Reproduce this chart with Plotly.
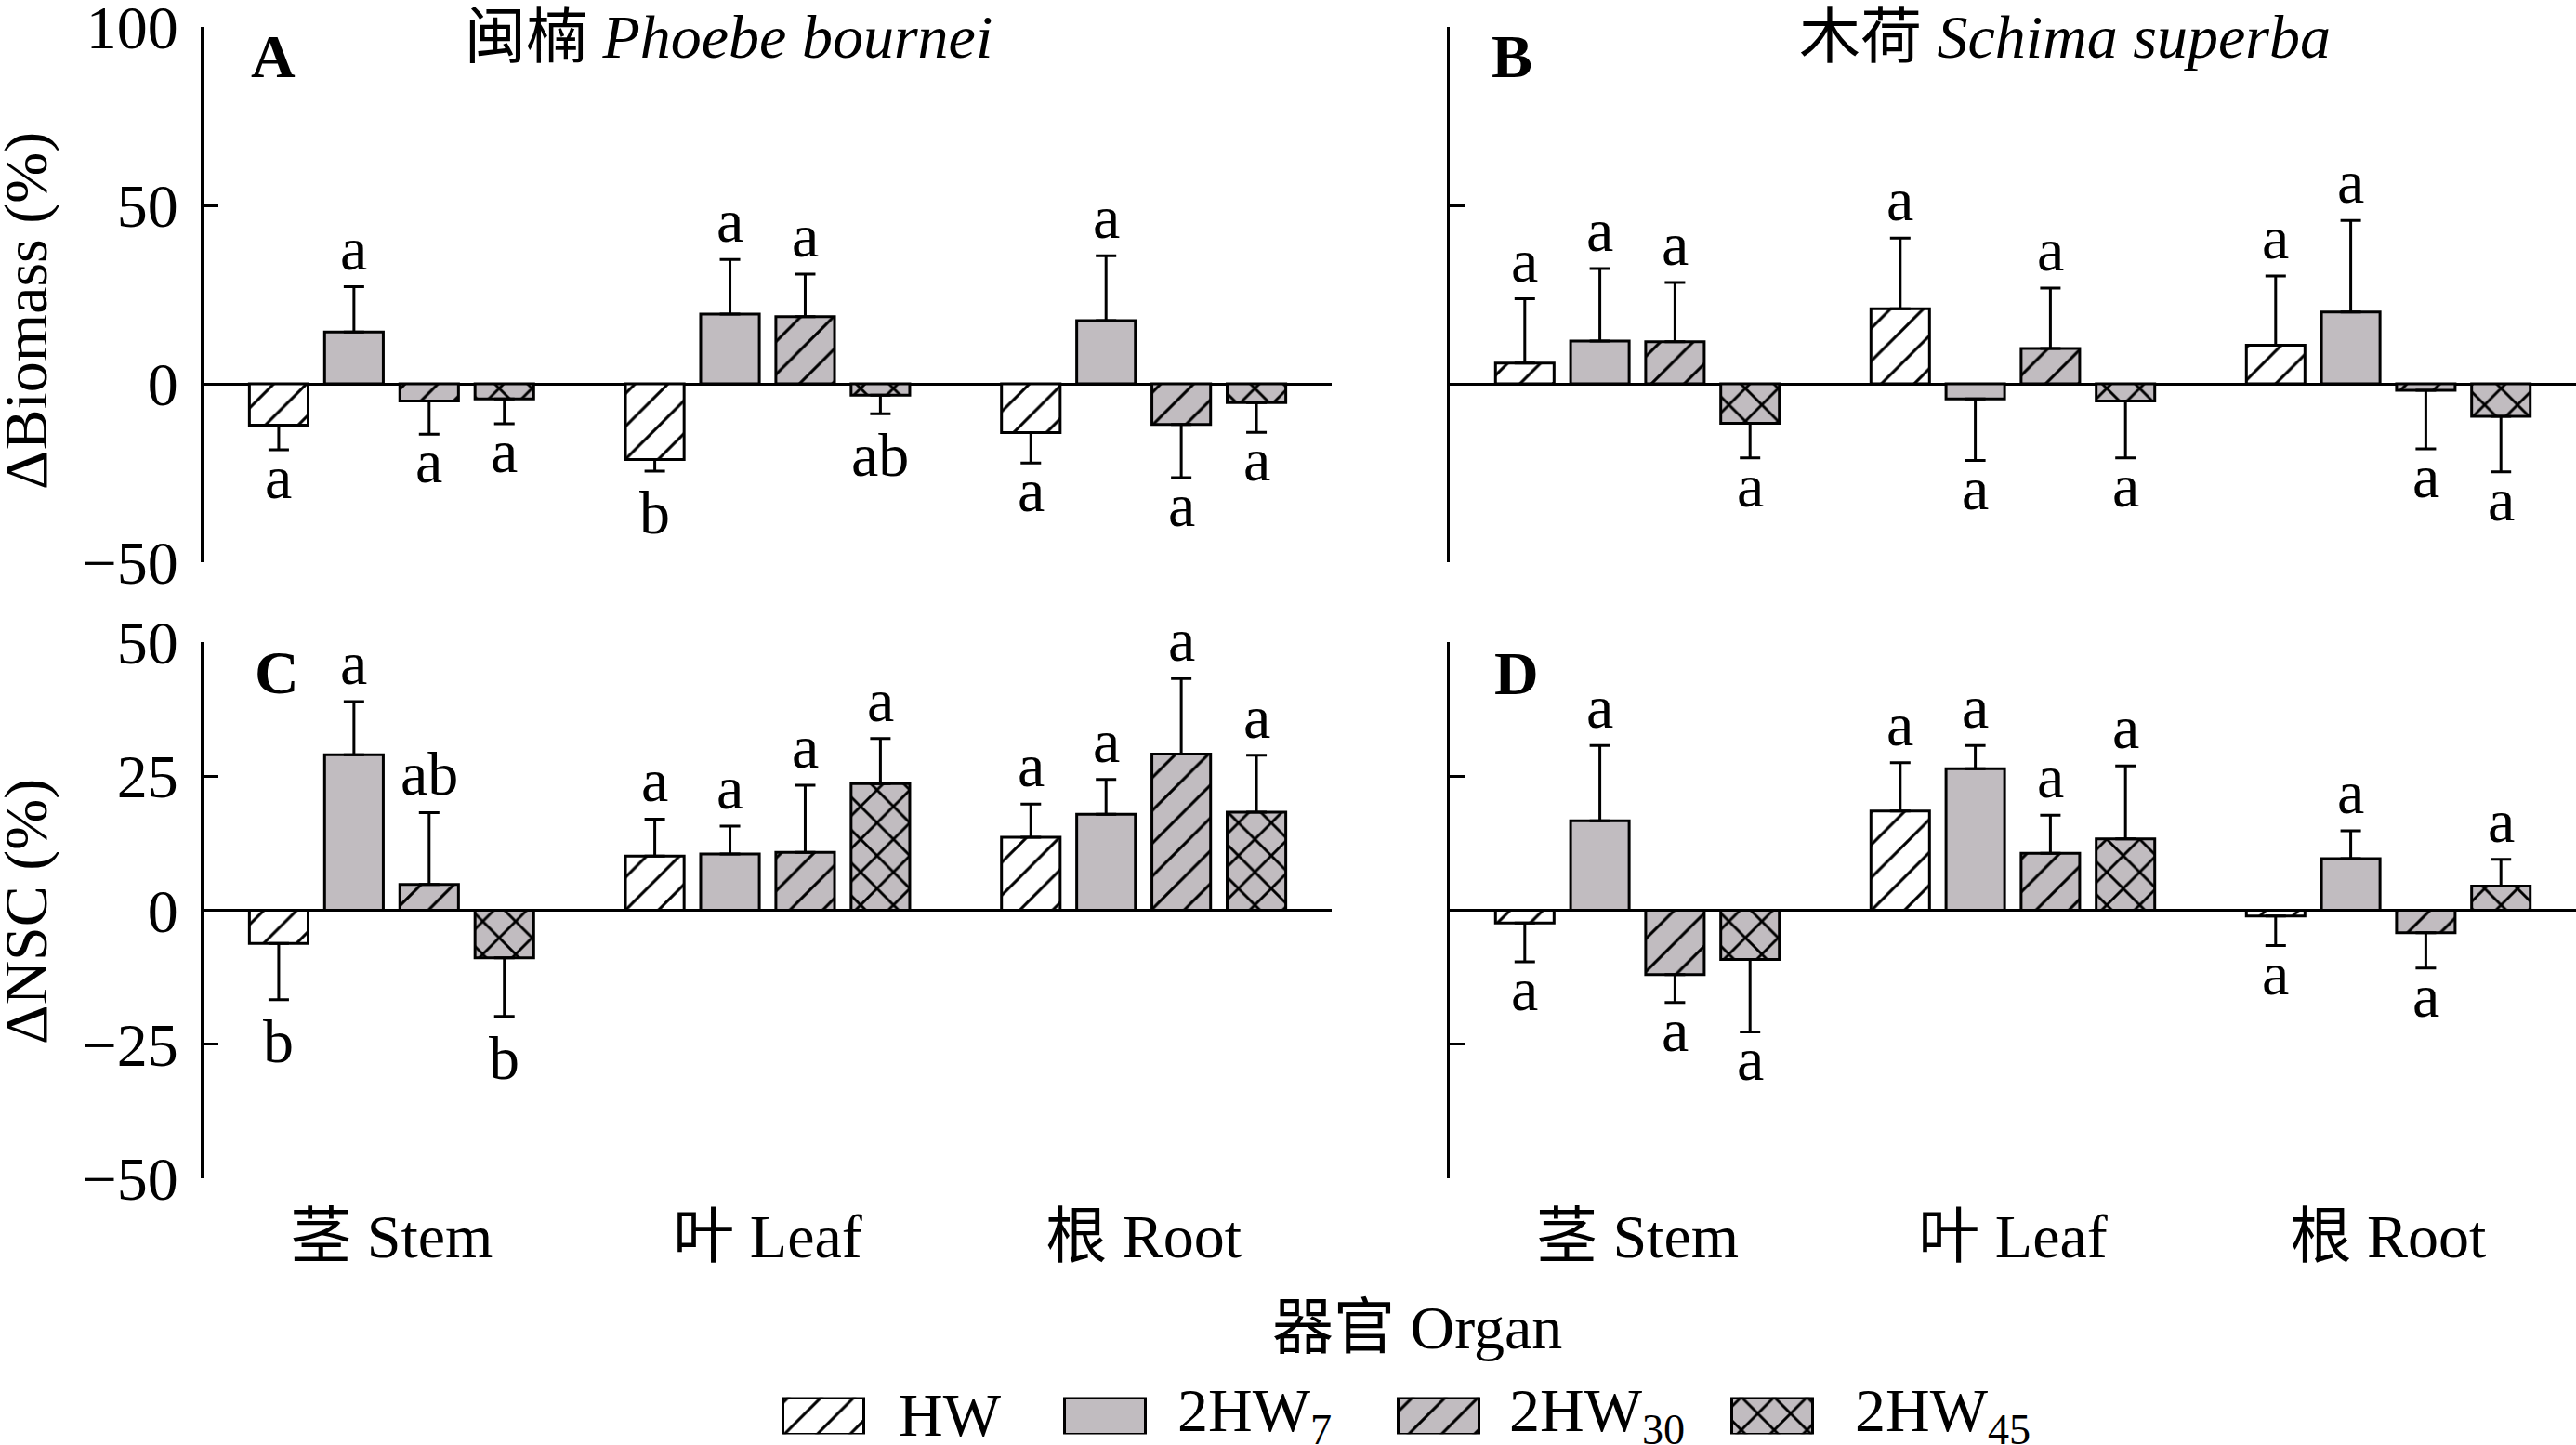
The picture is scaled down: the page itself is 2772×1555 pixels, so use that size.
import plotly.graph_objects as go

W, H = 2772, 1555

organs = ["茎 Stem", "叶 Leaf", "根 Root"]
treatments = ["HW", "2HW<sub>7</sub>", "2HW<sub>30</sub>", "2HW<sub>45</sub>"]

# ---- Panel A: ΔBiomass, Phoebe bournei (rows = HW, 2HW7, 2HW30, 2HW45; cols = Stem, Leaf, Root)
A_mean = [[-11.6, -21.2, -13.7], [14.5, 19.5, 17.7], [-4.8, 18.8, -11.4], [-4.2, -3.2, -5.3]]
A_se = [[6.9, 3.3, 8.5], [12.7, 15.3, 18.2], [9.3, 11.9, 14.9], [7.0, 5.2, 8.3]]
A_sig = [["a", "b", "a"], ["a", "a", "a"], ["a", "a", "a"], ["a", "ab", "a"]]

# ---- Panel B: ΔBiomass, Schima superba
B_mean = [[5.8, 21.0, 10.8], [12.0, -4.2, 20.1], [11.8, 9.9, -1.8], [-11.1, -4.8, -9.1]]
B_se = [[18.0, 19.8, 19.4], [20.3, 17.3, 25.7], [16.6, 16.9, 16.4], [9.7, 16.0, 15.6]]
B_sig = [["a", "a", "a"], ["a", "a", "a"], ["a", "a", "a"], ["a", "a", "a"]]

# ---- Panel C: ΔNSC, Phoebe bournei
C_mean = [[-6.2, 10.1, 13.6], [29.0, 10.5, 17.9], [4.8, 10.8, 29.1], [-8.9, 23.6, 18.3]]
C_se = [[10.5, 6.9, 6.2], [9.9, 5.2, 6.5], [13.4, 12.5, 14.1], [10.9, 8.4, 10.6]]
C_sig = [["b", "a", "a"], ["a", "a", "a"], ["ab", "a", "a"], ["b", "a", "a"]]

# ---- Panel D: ΔNSC, Schima superba
D_mean = [[-2.4, 18.5, -1.1], [16.7, 26.4, 9.6], [-12.0, 10.6, -4.2], [-9.2, 13.3, 4.5]]
D_se = [[7.2, 9.0, 5.5], [14.0, 4.3, 5.2], [5.2, 7.1, 6.6], [13.5, 13.6, 5.0]]
D_sig = [["a", "a", "a"], ["a", "a", "a"], ["a", "a", "a"], ["a", "a", "a"]]

FONT = "Liberation Serif, Times New Roman, Noto Sans CJK SC, serif"
FS = 66
GRAY = "#C1BCC0"
fills = ["white", GRAY, GRAY, GRAY]
shapes_ = ["/", "", "/", "x"]
solid = [0.12, 0, 0.12, 0.22]
PSIZE = 25
BARGAP = 0.2

def marker(t):
    m = dict(color=fills[t], line=dict(color="black", width=3))
    if shapes_[t]:
        m["pattern"] = dict(shape=shapes_[t], fgcolor="black", bgcolor=fills[t],
                            size=PSIZE, solidity=solid[t], fillmode="replace")
    return m

fig = go.Figure()
panels = [
    ("A", A_mean, A_se, A_sig, "x", "y"),
    ("B", B_mean, B_se, B_sig, "x2", "y2"),
    ("C", C_mean, C_se, C_sig, "x3", "y3"),
    ("D", D_mean, D_se, D_sig, "x4", "y4"),
]
xpos = [0, 1, 2]
annotations = []
slot = (1 - BARGAP) / 4
for name, mean, se, sig, xa, ya in panels:
    for t in range(4):
        plus = [s if m >= 0 else 0 for m, s in zip(mean[t], se[t])]
        minus = [s if m < 0 else 0 for m, s in zip(mean[t], se[t])]
        fig.add_trace(go.Bar(
            x=xpos, y=mean[t], xaxis=xa, yaxis=ya, name=treatments[t], showlegend=False,
            marker=marker(t),
            error_y=dict(type="data", symmetric=False, array=plus, arrayminus=minus,
                         color="black", thickness=3, width=11),
        ))
        for i in range(3):
            m, s, lab = mean[t][i], se[t][i], sig[t][i]
            xx = i + (t - 1.5) * slot
            if m >= 0:
                annotations.append(dict(x=xx, y=m + s, xref=xa, yref=ya, text=lab, showarrow=False,
                                        yanchor="bottom", xanchor="center", yshift=3,
                                        font=dict(size=FS)))
            else:
                shift = -6 if "b" in lab else 9
                annotations.append(dict(x=xx, y=m - s, xref=xa, yref=ya, text=lab, showarrow=False,
                                        yanchor="top", xanchor="center", yshift=shift,
                                        font=dict(size=FS)))

# legend keys drawn as bars in an auxiliary subplot (pixel-like x scale)
leg_centers = [886, 1189, 1548, 1907]
leg_text_x = [965, 1265, 1622, 1994]
for t in range(4):
    fig.add_trace(go.Bar(x=[leg_centers[t]], y=[1], base=0, width=87, offset=-43.5,
                         xaxis="x5", yaxis="y5", showlegend=False, marker=marker(t),
                         hoverinfo="skip"))
    annotations.append(dict(x=leg_text_x[t] / W, y=1 - 1522 / H, xref="paper", yref="paper",
                            text=treatments[t], showarrow=False, xanchor="left", yanchor="middle",
                            font=dict(size=FS)))

xA = [219 / W, 1433 / W]
xB = [1560 / W, 1.0]
yTop = [1 - 605 / H, 1 - 29 / H]
yBot = [1 - 1268 / H, 1 - 691 / H]

def yax(rng, dtick, domain, labels):
    return dict(domain=domain, range=rng, dtick=dtick, tick0=0, showline=True, linecolor="black",
                linewidth=3, ticks="inside", ticklen=16, tickwidth=3, tickcolor="black",
                showgrid=False, zeroline=True, zerolinecolor="black", zerolinewidth=3,
                showticklabels=labels, tickfont=dict(size=FS), ticklabelstandoff=11,
                ticklabeloverflow="allow", automargin=False)

def xax(domain, labels, anchor):
    return dict(domain=domain, range=[-0.5, 2.5], showline=False, showgrid=False, zeroline=False,
                ticks="", tickvals=xpos, ticktext=organs, showticklabels=labels,
                tickfont=dict(size=FS), anchor=anchor, ticklabelstandoff=18,
                ticklabeloverflow="allow", automargin=False)

# panel letters, titles, axis titles
annotations += [
    dict(x=268 / W, y=1 - 60 / H, text="<b>A</b>", xanchor="left"),
    dict(x=1603 / W, y=1 - 60 / H, text="<b>B</b>", xanchor="left"),
    dict(x=272 / W, y=1 - 723 / H, text="<b>C</b>", xanchor="left"),
    dict(x=1606 / W, y=1 - 724 / H, text="<b>D</b>", xanchor="left"),
    dict(x=784 / W, y=1 - 40 / H, text="闽楠 <i>Phoebe bournei</i>", xanchor="center"),
    dict(x=2222 / W, y=1 - 40 / H, text="木荷 <i>Schima superba</i>", xanchor="center"),
    dict(x=28 / W, y=1 - 335 / H, text="ΔBiomass (%)", textangle=-90, xanchor="center"),
    dict(x=28 / W, y=1 - 981 / H, text="ΔNSC (%)", textangle=-90, xanchor="center"),
    dict(x=1525 / W, y=1 - 1428 / H, text="器官 Organ", xanchor="center"),
]
for a in annotations[-9:]:
    a.update(xref="paper", yref="paper", showarrow=False, yanchor="middle", font=dict(size=FS))

fig.update_layout(
    template="none",
    width=W, height=H, margin=dict(l=0, r=0, t=0, b=0, pad=0), autosize=False,
    paper_bgcolor="white", plot_bgcolor="rgba(0,0,0,0)",
    font=dict(family=FONT, size=FS, color="black"),
    barmode="group", bargap=BARGAP, bargroupgap=0.22,
    showlegend=False,
    xaxis=xax(xA, False, "y"), yaxis=yax([-50, 100], 50, yTop, True),
    xaxis2=xax(xB, False, "y2"), yaxis2=yax([-50, 100], 50, yTop, False),
    xaxis3=xax(xA, True, "y3"), yaxis3=yax([-50, 50], 25, yBot, True),
    xaxis4=xax(xB, True, "y4"), yaxis4=yax([-50, 50], 25, yBot, False),
    xaxis5=dict(domain=[0, 1], range=[0, W], visible=False, anchor="y5", automargin=False),
    yaxis5=dict(domain=[1 - 1543.5 / H, 1 - 1503.5 / H], range=[0, 1], visible=False,
                anchor="x5", automargin=False),
    annotations=annotations,
)
for ya in ["yaxis", "yaxis2", "yaxis3", "yaxis4"]:
    fig.layout[ya].anchor = {"yaxis": "x", "yaxis2": "x2", "yaxis3": "x3", "yaxis4": "x4"}[ya]

fig.write_html("out.html", config={"displayModeBar": False},
               post_script="document.body.style.margin='0';")
